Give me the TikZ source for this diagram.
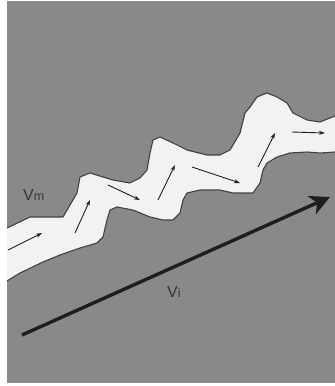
\documentclass[tikz,border=0pt]{standalone}
\usepackage{fontspec}
\setmainfont{Liberation Sans}
\usetikzlibrary{arrows.meta}
\definecolor{bg}{HTML}{898989}
\definecolor{chan}{HTML}{F2F2F2}
\definecolor{ink}{HTML}{1E1E1E}
\tikzset{
  edgeline/.style={draw=ink!85, line width=1.1pt, line join=round},
  flowarrow/.style={draw=ink, line width=0.9pt, -{Stealth[length=6pt,width=4pt]}},
  bigarrow/.style={draw=ink, line width=3.4pt, -{Stealth[length=20pt,width=20pt,inset=6pt]}},
  lbl/.style={font=\fontsize{16}{18}\selectfont, text=ink!90, inner sep=0pt, anchor=base west}
}
\newcommand{\smallsub}[1]{{\fontsize{12.5}{14}\selectfont #1}}
\begin{document}
\begin{tikzpicture}[x=1pt,y=-1pt]
\useasboundingbox (0,0) rectangle (335,386);
\fill[white] (0,0) rectangle (335,386);
\fill[bg] (7,1) rectangle (335,383);
% channel
\fill[chan] (7,228) -- (30,217) -- (63,217) -- (77,193) -- (80,177) -- (90,173) -- (103,177) -- (113,180) -- (130,183) -- (140,178) -- (147,170) -- (150,153) -- (153,140) -- (160,137) -- (173,143) -- (187,150) -- (207,155) -- (220,155) -- (230,150) -- (240,133) -- (245,113) -- (250,107) -- (257,97) -- (267,93) -- (277,97) -- (287,103) -- (293,113) -- (307,120) -- (320,122) -- (335,116)
 -- (335,152) -- (320,153) -- (307,152) -- (290,153) -- (277,157) -- (267,163) -- (263,170) -- (260,183) -- (253,193) -- (233,193) -- (220,190) -- (200,190) -- (187,193) -- (183,200) -- (180,213) -- (173,220) -- (163,220) -- (150,217) -- (133,210) -- (117,207) -- (110,210) -- (107,220) -- (103,237) -- (97,243) -- (80,248) -- (60,255) -- (43,262) -- (20,273) -- (7,281) -- cycle;
\draw[edgeline] (7,228) -- (30,217) -- (63,217) -- (77,193) -- (80,177) -- (90,173) -- (103,177) -- (113,180) -- (130,183) -- (140,178) -- (147,170) -- (150,153) -- (153,140) -- (160,137) -- (173,143) -- (187,150) -- (207,155) -- (220,155) -- (230,150) -- (240,133) -- (245,113) -- (250,107) -- (257,97) -- (267,93) -- (277,97) -- (287,103) -- (293,113) -- (307,120) -- (320,122) -- (335,116);
\draw[edgeline] (335,152) -- (320,153) -- (307,152) -- (290,153) -- (277,157) -- (267,163) -- (263,170) -- (260,183) -- (253,193) -- (233,193) -- (220,190) -- (200,190) -- (187,193) -- (183,200) -- (180,213) -- (173,220) -- (163,220) -- (150,217) -- (133,210) -- (117,207) -- (110,210) -- (107,220) -- (103,237) -- (97,243) -- (80,248) -- (60,255) -- (43,262) -- (20,273) -- (7,281);
% flow arrows
\coordinate (a1s) at (8,250);   \coordinate (a1e) at (42,233);
\coordinate (a2s) at (75,233);  \coordinate (a2e) at (90,200);
\coordinate (a3s) at (108,185); \coordinate (a3e) at (140,200);
\coordinate (a4s) at (158,200); \coordinate (a4e) at (175,165);
\coordinate (a5s) at (192,167); \coordinate (a5e) at (240,183);
\coordinate (a6s) at (258,167); \coordinate (a6e) at (275,133);
\coordinate (a7s) at (292,132); \coordinate (a7e) at (325,133);
\foreach \i in {1,...,7} \draw[flowarrow] (a\i s) -- (a\i e);
% big arrow
\coordinate (bs) at (22,335); \coordinate (be) at (330,197);
\draw[bigarrow] (bs) -- (be);
% labels
\node[lbl] (vm) at (23,200) {V\smallsub{m}};
\node[lbl] (vi) at (167,297) {V\smallsub{i}};
\end{tikzpicture}
\end{document}
